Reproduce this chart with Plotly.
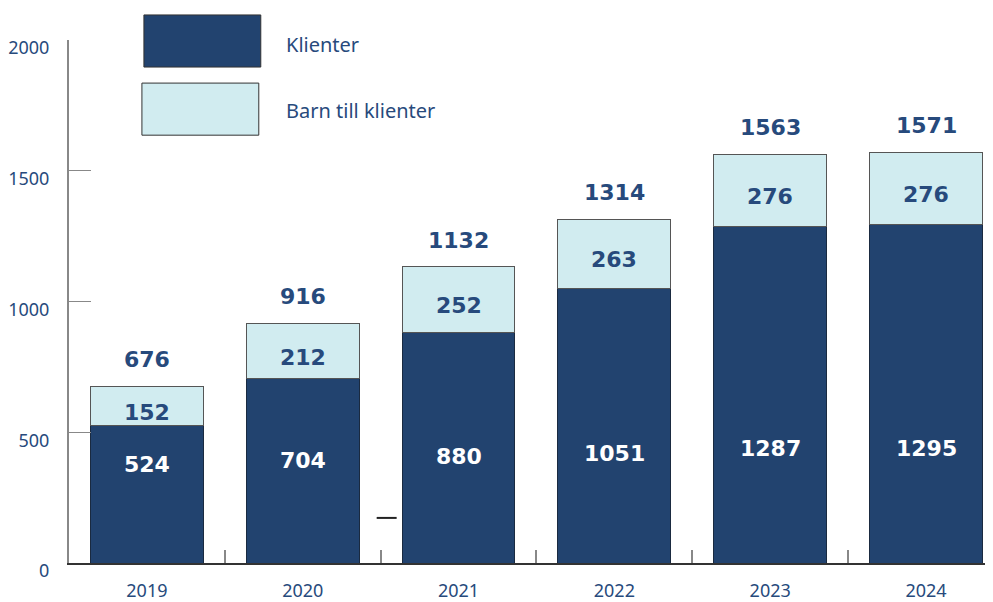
import plotly.graph_objects as go

years = ["2019", "2020", "2021", "2022", "2023", "2024"]
klienter = [524, 704, 880, 1051, 1287, 1295]
barn = [152, 212, 252, 263, 276, 276]
totals = [676, 916, 1132, 1314, 1563, 1571]
y_ticks = [0, 500, 1000, 1500, 2000]

DARK = "#22436f"
LIGHT = "#d1ecf0"
TXT = "#274a7c"
LBL = "DejaVu Sans, Verdana, sans-serif"
AX = "Noto Sans, Open Sans, sans-serif"

fig = go.Figure()
fig.add_trace(go.Bar(
    x=years, y=klienter, name="Klienter", marker=dict(color=DARK, line=dict(color="#1a2a40", width=1)),
    showlegend=False, hoverinfo="skip",
))
fig.add_trace(go.Bar(
    x=years, y=barn, name="Barn till klienter", marker=dict(color=LIGHT, line=dict(color="#555555", width=1)),
    showlegend=False, hoverinfo="skip",
))

annotations = []
for i, (k, b, t) in enumerate(zip(klienter, barn, totals)):
    annotations.append(dict(x=i, y=k * 0.08 + 335, xref="x", yref="y", text="<b>%d</b>" % k,
                            showarrow=False, font=dict(family=LBL, size=22, color="white")))
    annotations.append(dict(x=i, y=k + b / 2.0, xref="x", yref="y", text="<b>%d</b>" % b, yshift=-6,
                            showarrow=False, font=dict(family=LBL, size=22, color=TXT)))
    annotations.append(dict(x=i, y=t, xref="x", yref="y", text="<b>%d</b>" % t, yanchor="bottom",
                            yshift=12, showarrow=False, font=dict(family=LBL, size=22, color=TXT)))

# custom legend (page pixels -> paper coords; plot area spans 68..993 x 40..562)
def px_x(p):
    return (p - 68) / 925.0

def px_y(p):
    return (562 - p) / 522.0

shapes = [
    dict(type="rect", xref="paper", yref="paper", x0=px_x(143), x1=px_x(260), y0=px_y(67), y1=px_y(15),
         fillcolor=DARK, line=dict(color="#333333", width=1)),
    dict(type="rect", xref="paper", yref="paper", x0=px_x(141), x1=px_x(258), y0=px_y(135), y1=px_y(83),
         fillcolor=LIGHT, line=dict(color="#333333", width=1)),
    dict(type="line", xref="paper", yref="paper", x0=px_x(376), x1=px_x(396), y0=px_y(517), y1=px_y(517),
         line=dict(color="#222222", width=2)),
]
annotations.append(dict(x=px_x(283), y=px_y(44), xref="paper", yref="paper", text="Klienter",
                        xanchor="left", yanchor="middle",
                        showarrow=False, font=dict(family=AX, size=20, color=TXT)))
annotations.append(dict(x=px_x(283), y=px_y(110), xref="paper", yref="paper", text="Barn till klienter",
                        xanchor="left", yanchor="middle",
                        showarrow=False, font=dict(family=AX, size=20, color=TXT)))

fig.update_layout(
    barmode="stack", bargap=0.276,
    width=985, height=594,
    margin=dict(l=60, r=0, t=32, b=32),
    plot_bgcolor="white", paper_bgcolor="white",
    annotations=annotations, shapes=shapes,
    showlegend=False,
    xaxis=dict(type="category", range=[-0.5, 5.43], showline=True, linecolor="#333333", linewidth=2,
               ticks="inside", tickson="boundaries", ticklen=13, tickcolor="#888888", tickwidth=2,
               tickfont=dict(family=AX, size=18, color=TXT), showgrid=False, zeroline=False,
               ticklabelstandoff=10),
    yaxis=dict(range=[0, 2000], tickvals=y_ticks, ticktext=[str(v) for v in y_ticks],
               showline=True, linecolor="#888888", linewidth=2,
               ticks="inside", ticklen=22, tickcolor="#888888", tickwidth=1,
               tickfont=dict(family=AX, size=18, color=TXT), showgrid=False, zeroline=False,
               ticklabelstandoff=14, ticklabelshift=8),
)

fig.write_html("out.html")
